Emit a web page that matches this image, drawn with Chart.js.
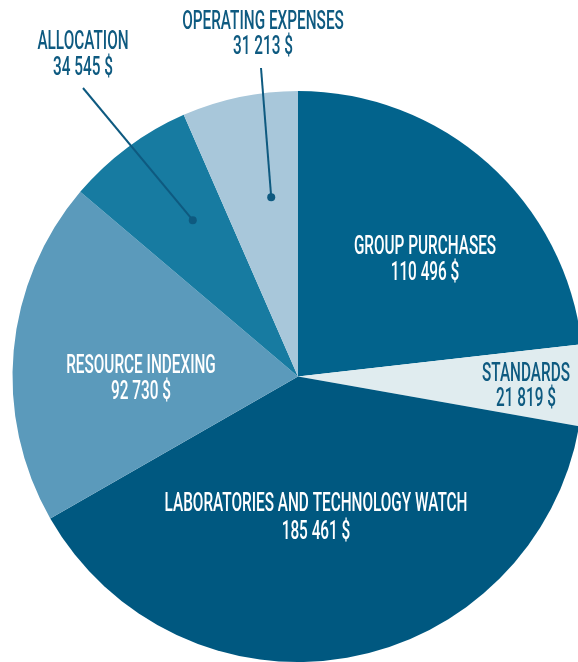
<!DOCTYPE html>
<html>
<head>
<meta charset="utf-8">
<script src="https://cdn.jsdelivr.net/npm/chart.js@4.4.1/dist/chart.umd.min.js"></script>
<style>
  html, body { margin: 0; padding: 0; background: #fff; overflow: hidden; }
  canvas { display: block; }
</style>
</head>
<body>
<canvas id="budgetChart" width="600" height="662"></canvas>
<script>
// Categories and amounts
const categories = [
  "GROUP PURCHASES",
  "STANDARDS",
  "LABORATORIES AND TECHNOLOGY WATCH",
  "RESOURCE INDEXING",
  "ALLOCATION",
  "OPERATING EXPENSES"
];
const amounts = [110496, 21819, 185461, 92730, 34545, 31213];
const amountLabels = ["110 496 $", "21 819 $", "185 461 $", "92 730 $", "34 545 $", "31 213 $"];

const sliceColors = ["#02638c", "#e0ecef", "#005880", "#5b9abb", "#177ba1", "#a8c7da"];
const textColors = ["#ffffff", "#0e5a80", "#ffffff", "#ffffff", "#0e5a80", "#0e5a80"];

// Label centres (x, y of first line); outside labels get a leader line to a dot in the slice
const labelPos = [
  { x: 425, y: 247, gap: 26 },
  { x: 526, y: 374, gap: 25 },
  { x: 316, y: 504, gap: 28 },
  { x: 141, y: 366, gap: 26 },
  { x: 83, y: 42, gap: 26, leader: { from: [83, 88], r: 0.66, turn: 2.7 } },
  { x: 263, y: 22, gap: 25, leader: { from: [261, 68], r: 0.635, turn: 3.3 } }
];

const FONT_SIZE = 26;
const SQUEEZE = 0.59;

// draws a horizontally squeezed line of text centred at x, y
const drawSqueezed = (ctx, text, x, y) => {
  ctx.save();
  ctx.translate(x, y);
  ctx.scale(SQUEEZE, 1);
  ctx.fillText(text, 0, 0);
  ctx.restore();
};

const labelPlugin = {
  id: "sliceLabels",
  afterDraw(chart) {
    const ctx = chart.ctx;
    const arcs = chart.getDatasetMeta(0).data;
    ctx.save();
    ctx.font = "500 " + FONT_SIZE + "px Roboto";
    ctx.textAlign = "center";
    ctx.textBaseline = "middle";

    arcs.forEach((arc, i) => {
      const pos = labelPos[i];

      if (pos.leader) {
        const mid = (arc.startAngle + arc.endAngle) / 2 + pos.leader.turn * Math.PI / 180;
        const dx = arc.x + Math.cos(mid) * arc.outerRadius * pos.leader.r;
        const dy = arc.y + Math.sin(mid) * arc.outerRadius * pos.leader.r;
        ctx.strokeStyle = "#0e5a80";
        ctx.fillStyle = "#0e5a80";
        ctx.lineWidth = 2;
        ctx.beginPath();
        ctx.moveTo(pos.leader.from[0], pos.leader.from[1]);
        ctx.lineTo(dx, dy);
        ctx.stroke();
        ctx.beginPath();
        ctx.arc(dx, dy, 4, 0, Math.PI * 2);
        ctx.fill();
      }

      ctx.fillStyle = textColors[i];
      drawSqueezed(ctx, categories[i], pos.x, pos.y);
      drawSqueezed(ctx, amountLabels[i], pos.x, pos.y + pos.gap);
    });
    ctx.restore();
  }
};

const ctx = document.getElementById("budgetChart").getContext("2d");

new Chart(ctx, {
  type: "pie",
  data: {
    labels: categories,
    datasets: [{
      data: amounts,
      backgroundColor: sliceColors,
      borderWidth: 0
    }]
  },
  options: {
    responsive: false,
    animation: false,
    devicePixelRatio: 1,
    layout: {
      padding: { left: 12, right: 16, top: 91, bottom: 0 }
    },
    plugins: {
      legend: { display: false },
      tooltip: { enabled: false }
    }
  },
  plugins: [labelPlugin]
});
</script>
</body>
</html>
